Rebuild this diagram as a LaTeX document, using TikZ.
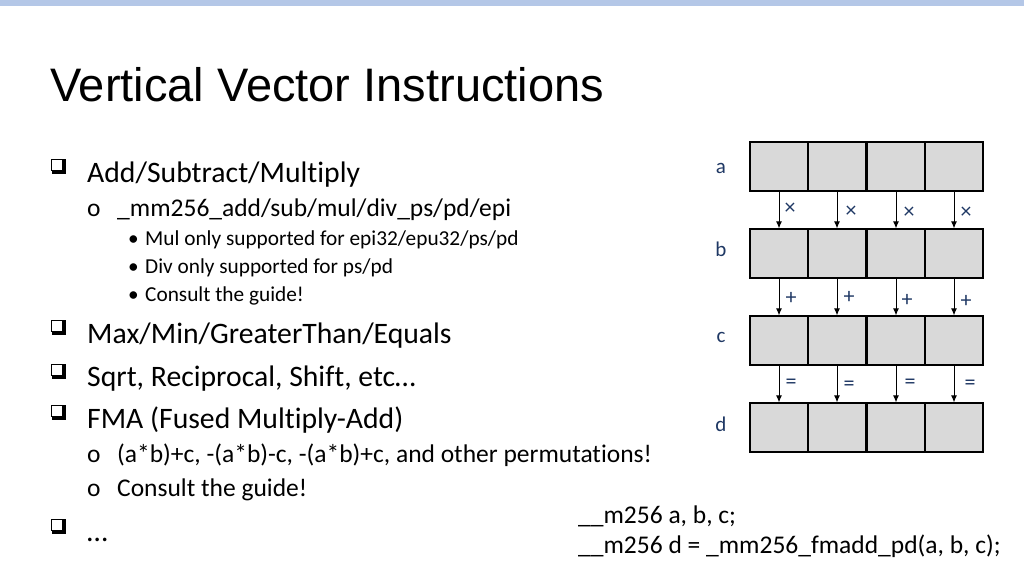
\documentclass[tikz,border=0pt]{standalone}
\usepackage{fontspec}
\usetikzlibrary{arrows.meta}
\setmainfont[RawFeature=-liga]{Carlito}
\newfontfamily\titlefont{Liberation Sans}
\definecolor{bar}{HTML}{B4C7E7}
\definecolor{cellg}{HTML}{D9D9D9}
\definecolor{navy}{HTML}{1F3864}
\begin{document}
\begin{tikzpicture}[x=1pt,y=-1pt,
  cell/.style={draw=black,fill=cellg,line width=1.2pt,minimum width=58pt,minimum height=49pt,inner sep=0pt},
  lvlone/.style={anchor=base west,font=\fontsize{29.7}{29.7}\selectfont,inner sep=0pt},
  lvltwo/.style={anchor=base west,font=\fontsize{25.5}{25.5}\selectfont,inner sep=0pt},
  lvlthree/.style={anchor=base west,font=\fontsize{21.3}{21.3}\selectfont,inner sep=0pt},
  lab/.style={text=navy,font=\fontsize{21}{21}\selectfont,inner sep=0pt},
  op/.style={text=navy,font=\fontsize{22}{22}\selectfont,inner sep=0pt},
  arr/.style={-{Latex[length=7pt,width=6pt]},line width=1pt},
  qbox/.style={draw=black,line width=1.2pt,minimum size=11pt,inner sep=0pt}]
\useasboundingbox (0,0) rectangle (1024,576);
\fill[bar] (0,0) rectangle (1024,6);
\node[anchor=base west,inner sep=0pt,font=\titlefont\fontsize{47}{47}\selectfont] (title) at (50,101) {Vertical Vector Instructions};
\foreach \y/\n in {173/q1,334/q2,378/q3,419/q4,533/q5}{
  \fill (52,\y-14.5) rectangle (66,\y+0.5);
  \node[qbox,fill=white,anchor=south west] (\n) at (51,\y-2) {};
}
\node[lvlone] (t1) at (87,182) {Add/Subtract/Multiply};
\node[lvltwo] (t2) at (87,216) {o};
\node[lvltwo] (t3) at (117,216) {\_mm256\_add/sub/mul/div\_ps/pd/epi};
\node[lvlthree] (t4) at (128,245) {•};
\node[lvlthree] (t5) at (145,245) {Mul only supported for epi32/epu32/ps/pd};
\node[lvlthree] (t6) at (128,273) {•};
\node[lvlthree] (t7) at (145,273) {Div only supported for ps/pd};
\node[lvlthree] (t8) at (128,301) {•};
\node[lvlthree] (t9) at (145,301) {Consult the guide!};
\node[lvlone] (t10) at (87,343) {Max/Min/GreaterThan/Equals};
\node[lvlone] (t11) at (87,386) {Sqrt, Reciprocal, Shift, etc…};
\node[lvlone] (t12) at (87,428) {FMA (Fused Multiply-Add)};
\node[lvltwo] (t13) at (87,462) {o};
\node[lvltwo] (t14) at (117,462) {(a*b)+c, -(a*b)-c, -(a*b)+c, and other permutations!};
\node[lvltwo] (t15) at (87,496) {o};
\node[lvltwo] (t16) at (117,496) {Consult the guide!};
\node[lvlone] (t17) at (87,541) {…};
\node[lvltwo] (c1) at (578,523) {\_\_m256 a, b, c;};
\node[lvltwo] (c2) at (578,553) {\_\_m256 d = \_mm256\_fmadd\_pd(a, b, c);};
\foreach \r/\y/\l/\ly in {a/166.5/a/168,b/253.5/b/249,c/340.5/c/337,d/427.5/d/424}{
  \node[lab] (l\r) at (721,\ly) {\l};
  \foreach \i/\x in {1/779,2/837,3/896,4/954}{
    \node[cell] (\r\i) at (\x,\y) {};
  }
}
\foreach \i in {1,2,3,4}{
  \draw[arr] (a\i.south) -- (b\i.north);
  \draw[arr] (b\i.south) -- (c\i.north);
  \draw[arr] (c\i.south) -- (d\i.north);
}
\node[op] (m1) at (790,209) {×};
\node[op] (m2) at (851,212) {×};
\node[op] (m3) at (909,213) {×};
\node[op] (m4) at (966,213) {×};
\node[op] (p1) at (791,298) {+};
\node[op] (p2) at (849,297) {+};
\node[op] (p3) at (907,300) {+};
\node[op] (p4) at (966,301) {+};
\node[op] (e1) at (791,384) {=};
\node[op] (e2) at (849,386) {=};
\node[op] (e3) at (910,384) {=};
\node[op] (e4) at (970,385) {=};
\end{tikzpicture}
\end{document}
